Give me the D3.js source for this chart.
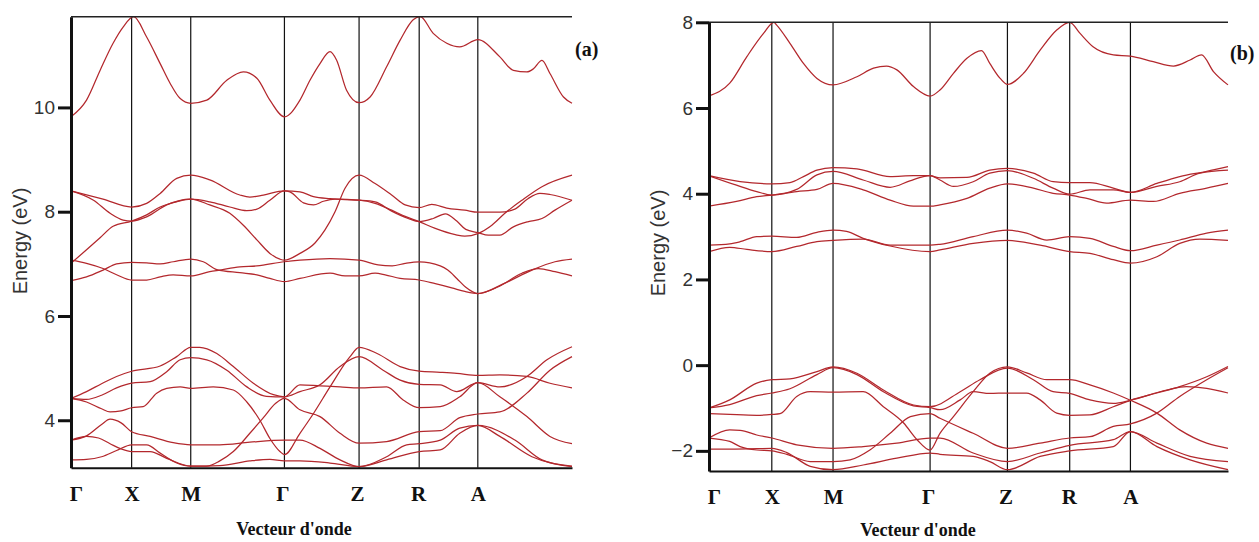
<!DOCTYPE html>
<html><head><meta charset="utf-8">
<script src="https://cdn.jsdelivr.net/npm/d3@7"></script>
<style>
body{margin:0;background:#fff;}
svg{display:block;}
</style></head><body>
<svg id="chart" width="1259" height="542"></svg>
<script>
// High-symmetry points along the k-path (normalized path length)
const kTicks = [0, 0.121, 0.239, 0.426, 0.575, 0.695, 0.812, 1];
const kLabels = ["Γ", "X", "M", "Γ", "Z", "R", "A", ""];
const xTitle = "Vecteur d'onde";
const yTitle = "Energy (eV)";

// Panel (a): bands as [k, E(eV)]
const yTicksA = [4, 6, 8, 10];
const yDomainA = [3.09, 11.74];
const bandsA = [
  [[0,9.82],[0.031,10.14],[0.058,10.71],[0.084,11.23],[0.104,11.54],[0.125,11.74],[0.151,11.35],[0.178,10.84],[0.198,10.46],[0.218,10.17],[0.239,10.08],[0.271,10.14],[0.311,10.52],[0.344,10.68],[0.371,10.56],[0.397,10.14],[0.426,9.82],[0.457,10.14],[0.477,10.52],[0.497,10.84],[0.517,11.07],[0.530,10.91],[0.550,10.33],[0.575,10.09],[0.597,10.20],[0.630,10.78],[0.657,11.29],[0.683,11.68],[0.697,11.74],[0.723,11.42],[0.750,11.23],[0.776,11.16],[0.812,11.30],[0.856,10.97],[0.883,10.71],[0.910,10.68],[0.923,10.74],[0.940,10.90],[0.956,10.65],[0.983,10.2],[1,10.08]],
  [[0,8.40],[0.064,8.24],[0.121,8.09],[0.151,8.16],[0.178,8.35],[0.211,8.64],[0.239,8.70],[0.277,8.61],[0.337,8.32],[0.357,8.28],[0.384,8.32],[0.426,8.40],[0.457,8.38],[0.484,8.29],[0.517,8.25],[0.547,8.23],[0.575,8.22],[0.607,8.19],[0.640,8.01],[0.673,7.87],[0.695,7.81],[0.723,7.87],[0.747,7.96],[0.770,7.82],[0.788,7.66],[0.812,7.60],[0.833,7.55],[0.856,7.55],[0.883,7.71],[0.913,7.81],[0.940,7.87],[0.966,8.03],[1,8.22]],
  [[0,8.40],[0.045,8.22],[0.078,7.97],[0.104,7.84],[0.121,7.82],[0.151,7.90],[0.191,8.13],[0.239,8.24],[0.277,8.19],[0.317,8.09],[0.351,8.02],[0.371,8.05],[0.397,8.22],[0.426,8.40],[0.437,8.38],[0.464,8.17],[0.484,8.13],[0.504,8.20],[0.527,8.24],[0.575,8.22],[0.607,8.16],[0.640,8.03],[0.667,7.91],[0.695,7.81],[0.727,7.68],[0.767,7.56],[0.786,7.53],[0.812,7.58],[0.840,7.74],[0.866,7.97],[0.900,8.22],[0.940,8.48],[1,8.70]],
  [[0,7.01],[0.031,7.27],[0.058,7.50],[0.084,7.72],[0.121,7.82],[0.151,7.94],[0.178,8.09],[0.211,8.19],[0.239,8.24],[0.277,8.13],[0.317,7.97],[0.344,7.74],[0.371,7.46],[0.397,7.20],[0.417,7.09],[0.426,7.07],[0.457,7.2],[0.487,7.4],[0.507,7.65],[0.527,8.0],[0.547,8.45],[0.575,8.70],[0.607,8.54],[0.640,8.32],[0.667,8.13],[0.695,8.08],[0.720,8.14],[0.750,8.07],[0.786,8.03],[0.812,7.99],[0.856,7.99],[0.886,8.05],[0.912,8.25],[0.936,8.35],[0.956,8.33],[1,8.22]],
  [[0,7.07],[0.031,7.01],[0.064,6.91],[0.091,6.79],[0.121,6.69],[0.151,6.69],[0.178,6.75],[0.204,6.79],[0.239,6.77],[0.277,6.85],[0.297,6.88],[0.337,6.94],[0.371,6.96],[0.426,7.04],[0.457,7.07],[0.517,7.10],[0.575,7.07],[0.613,6.98],[0.641,6.96],[0.667,7.01],[0.695,7.04],[0.737,6.96],[0.752,6.88],[0.770,6.72],[0.788,6.55],[0.812,6.43],[0.866,6.63],[0.920,6.88],[0.966,7.04],[1,7.09]],
  [[0,6.68],[0.031,6.75],[0.064,6.88],[0.091,7.0],[0.121,7.03],[0.151,7.02],[0.178,7.0],[0.204,7.04],[0.239,7.09],[0.264,7.04],[0.291,6.89],[0.337,6.83],[0.371,6.79],[0.397,6.72],[0.426,6.66],[0.457,6.72],[0.517,6.82],[0.547,6.77],[0.575,6.77],[0.607,6.82],[0.627,6.79],[0.657,6.72],[0.695,6.69],[0.727,6.62],[0.760,6.54],[0.786,6.47],[0.812,6.43],[0.853,6.56],[0.900,6.82],[0.933,6.91],[0.966,6.85],[1,6.77]],
  [[0,4.42],[0.031,4.55],[0.061,4.70],[0.091,4.84],[0.121,4.94],[0.178,5.04],[0.211,5.22],[0.239,5.40],[0.257,5.40],[0.291,5.28],[0.324,5.03],[0.364,4.71],[0.404,4.49],[0.426,4.45],[0.457,4.55],[0.497,4.68],[0.537,5.03],[0.575,5.22],[0.623,4.96],[0.657,4.77],[0.695,4.69],[0.737,4.68],[0.770,4.55],[0.812,4.72],[0.856,4.64],[0.910,4.84],[0.950,5.16],[1,5.41]],
  [[0,4.42],[0.031,4.40],[0.061,4.48],[0.091,4.62],[0.121,4.71],[0.158,4.74],[0.191,4.93],[0.218,5.16],[0.239,5.20],[0.271,5.16],[0.311,4.96],[0.351,4.64],[0.390,4.46],[0.426,4.45],[0.457,4.68],[0.497,4.66],[0.537,4.64],[0.575,4.62],[0.630,4.64],[0.663,4.39],[0.695,4.24],[0.737,4.26],[0.776,4.45],[0.812,4.72],[0.856,4.45],[0.910,4.07],[0.956,3.69],[1,3.55]],
  [[0,4.42],[0.031,4.35],[0.061,4.22],[0.078,4.16],[0.100,4.18],[0.121,4.24],[0.144,4.26],[0.171,4.52],[0.191,4.61],[0.218,4.64],[0.239,4.61],[0.284,4.64],[0.324,4.58],[0.351,4.35],[0.377,4.0],[0.397,3.65],[0.417,3.40],[0.426,3.34],[0.457,3.75],[0.484,4.13],[0.517,4.64],[0.557,5.22],[0.575,5.40],[0.611,5.28],[0.657,5.03],[0.695,4.94],[0.737,4.92],[0.770,4.90],[0.812,4.86],[0.856,4.87],[0.910,4.84],[0.956,4.71],[1,4.62]],
  [[0,3.62],[0.031,3.70],[0.061,3.92],[0.078,4.02],[0.100,3.95],[0.121,3.78],[0.158,3.69],[0.204,3.57],[0.239,3.53],[0.297,3.53],[0.357,3.58],[0.426,3.62],[0.457,3.62],[0.497,3.46],[0.537,3.24],[0.575,3.11],[0.630,3.24],[0.695,3.40],[0.737,3.43],[0.776,3.75],[0.812,3.90],[0.886,3.62],[0.940,3.24],[1,3.11]],
  [[0,3.62],[0.031,3.69],[0.055,3.66],[0.078,3.55],[0.100,3.45],[0.121,3.40],[0.158,3.40],[0.191,3.27],[0.239,3.12],[0.271,3.12],[0.297,3.22],[0.324,3.40],[0.357,3.75],[0.384,4.05],[0.408,4.32],[0.426,4.42],[0.457,4.20],[0.497,4.07],[0.537,3.75],[0.575,3.56],[0.630,3.59],[0.695,3.78],[0.737,3.80],[0.776,4.05],[0.812,4.12],[0.856,4.16],[0.910,4.52],[0.956,4.96],[1,5.22]],
  [[0,3.24],[0.031,3.25],[0.061,3.30],[0.091,3.42],[0.121,3.53],[0.151,3.53],[0.178,3.37],[0.211,3.18],[0.239,3.12],[0.297,3.13],[0.357,3.22],[0.397,3.25],[0.426,3.22],[0.457,3.22],[0.517,3.18],[0.575,3.11],[0.630,3.30],[0.670,3.53],[0.695,3.55],[0.737,3.62],[0.776,3.85],[0.812,3.90],[0.856,3.69],[0.920,3.30],[1,3.12]]
];

// Panel (b): bands as [k, E(eV)]
const yTicksB = [-2, 0, 2, 4, 6, 8];
const yDomainB = [-2.47, 8];
const bandsB = [
  [[0,6.28],[0.040,6.58],[0.073,7.20],[0.105,7.74],[0.125,8.0],[0.130,7.94],[0.156,7.51],[0.182,7.04],[0.208,6.69],[0.239,6.54],[0.285,6.73],[0.317,6.93],[0.342,6.98],[0.362,6.89],[0.394,6.50],[0.426,6.28],[0.445,6.42],[0.471,6.81],[0.497,7.16],[0.525,7.34],[0.541,7.04],[0.561,6.69],[0.575,6.55],[0.606,6.81],[0.638,7.35],[0.670,7.82],[0.695,8.0],[0.715,7.74],[0.740,7.43],[0.779,7.24],[0.812,7.21],[0.856,7.08],[0.895,6.98],[0.927,7.12],[0.949,7.24],[0.972,6.85],[1,6.54]],
  [[0,4.42],[0.060,4.28],[0.121,4.23],[0.156,4.26],[0.182,4.40],[0.208,4.55],[0.239,4.61],[0.285,4.58],[0.349,4.40],[0.394,4.42],[0.426,4.42],[0.445,4.37],[0.497,4.38],[0.541,4.55],[0.575,4.59],[0.625,4.48],[0.663,4.28],[0.695,4.26],[0.734,4.26],[0.779,4.13],[0.812,4.03],[0.863,4.24],[0.907,4.40],[0.959,4.52],[1,4.63]],
  [[0,4.42],[0.053,4.20],[0.092,4.05],[0.121,3.97],[0.169,4.10],[0.208,4.44],[0.239,4.52],[0.297,4.32],[0.349,4.15],[0.387,4.30],[0.413,4.40],[0.426,4.42],[0.445,4.32],[0.471,4.17],[0.509,4.28],[0.541,4.48],[0.575,4.54],[0.625,4.36],[0.663,4.13],[0.695,3.99],[0.734,4.09],[0.779,4.09],[0.812,4.03],[0.863,4.17],[0.907,4.28],[0.946,4.48],[1,4.55]],
  [[0,3.71],[0.053,3.82],[0.092,3.93],[0.121,3.97],[0.169,4.05],[0.208,4.10],[0.239,4.24],[0.297,4.09],[0.349,3.85],[0.394,3.71],[0.426,3.71],[0.445,3.74],[0.497,3.89],[0.541,4.13],[0.575,4.23],[0.625,4.13],[0.663,4.01],[0.695,3.97],[0.728,3.89],[0.766,3.78],[0.812,3.85],[0.856,3.82],[0.907,4.01],[0.959,4.13],[1,4.24]],
  [[0,2.80],[0.040,2.83],[0.060,2.88],[0.092,3.0],[0.121,3.01],[0.169,2.98],[0.208,3.10],[0.239,3.15],[0.265,3.12],[0.297,2.96],[0.349,2.78],[0.426,2.65],[0.445,2.69],[0.509,2.84],[0.575,2.91],[0.638,2.80],[0.695,2.65],[0.734,2.61],[0.779,2.46],[0.812,2.38],[0.863,2.53],[0.907,2.84],[0.946,2.94],[1,2.91]],
  [[0,2.65],[0.040,2.75],[0.073,2.70],[0.121,2.65],[0.169,2.77],[0.208,2.88],[0.239,2.91],[0.297,2.94],[0.349,2.80],[0.426,2.80],[0.445,2.82],[0.509,3.0],[0.575,3.15],[0.612,3.08],[0.651,2.92],[0.695,3.00],[0.734,2.96],[0.779,2.77],[0.812,2.67],[0.863,2.80],[0.907,2.92],[0.959,3.08],[1,3.15]],
  [[0,-1.0],[0.040,-0.81],[0.092,-0.42],[0.121,-0.34],[0.156,-0.32],[0.208,-0.15],[0.239,-0.04],[0.285,-0.19],[0.336,-0.58],[0.394,-0.93],[0.426,-0.97],[0.484,-0.62],[0.522,-0.34],[0.575,-0.07],[0.625,-0.34],[0.663,-0.62],[0.695,-0.66],[0.734,-0.81],[0.779,-0.89],[0.812,-0.82],[0.882,-0.58],[0.920,-0.50],[0.959,-0.54],[1,-0.65]],
  [[0,-1.0],[0.040,-0.92],[0.092,-0.71],[0.121,-0.65],[0.156,-0.55],[0.208,-0.22],[0.239,-0.06],[0.285,-0.22],[0.336,-0.62],[0.394,-0.95],[0.426,-0.99],[0.445,-1.04],[0.484,-0.81],[0.509,-0.62],[0.541,-0.66],[0.575,-0.65],[0.612,-0.65],[0.638,-0.81],[0.670,-1.12],[0.695,-1.17],[0.734,-1.16],[0.779,-0.97],[0.812,-0.82],[0.863,-0.65],[0.907,-0.50],[0.959,-0.27],[1,-0.03]],
  [[0,-1.13],[0.040,-1.15],[0.092,-1.17],[0.121,-1.15],[0.137,-1.13],[0.169,-0.73],[0.195,-0.62],[0.239,-0.63],[0.297,-0.62],[0.336,-0.97],[0.375,-1.35],[0.401,-1.74],[0.426,-1.98],[0.445,-1.59],[0.471,-1.20],[0.509,-0.62],[0.541,-0.19],[0.575,-0.04],[0.612,-0.18],[0.651,-0.34],[0.695,-0.34],[0.734,-0.46],[0.779,-0.65],[0.812,-0.82],[0.863,-1.12],[0.907,-1.51],[0.959,-1.82],[1,-1.94]],
  [[0,-1.70],[0.040,-1.51],[0.060,-1.52],[0.092,-1.63],[0.121,-1.70],[0.169,-1.86],[0.239,-1.94],[0.297,-1.90],[0.362,-1.82],[0.426,-1.70],[0.445,-1.70],[0.509,-2.05],[0.575,-2.25],[0.638,-2.05],[0.695,-1.87],[0.779,-1.74],[0.812,-1.55],[0.863,-1.82],[0.927,-2.13],[1,-2.25]],
  [[0,-1.70],[0.040,-1.78],[0.060,-1.90],[0.092,-1.98],[0.121,-2.0],[0.150,-2.08],[0.195,-2.25],[0.239,-2.25],[0.272,-2.21],[0.310,-1.98],[0.349,-1.59],[0.388,-1.20],[0.426,-1.13],[0.445,-1.24],[0.509,-1.59],[0.575,-1.94],[0.638,-1.82],[0.695,-1.70],[0.734,-1.67],[0.779,-1.43],[0.812,-1.37],[0.863,-1.12],[0.907,-0.73],[0.959,-0.34],[1,-0.06]],
  [[0,-1.96],[0.040,-1.96],[0.092,-1.95],[0.121,-1.94],[0.150,-2.04],[0.195,-2.36],[0.239,-2.44],[0.297,-2.33],[0.362,-2.17],[0.426,-2.05],[0.445,-2.08],[0.509,-2.13],[0.541,-2.25],[0.575,-2.44],[0.638,-2.13],[0.695,-2.0],[0.779,-1.90],[0.812,-1.55],[0.863,-1.90],[0.927,-2.21],[1,-2.44]]
];

const svg = d3.select("#chart");
const bandColor = "#b3282d";
const serif = "'Liberation Serif','Times New Roman',serif";
const sans = "'Liberation Sans',Arial,sans-serif";
const labelShift = [5, 0, 0, -2, -2, -1, 0, 0];

function drawPanel(p) {
  const x = d3.scaleLinear().domain([0, 1]).range([p.left, p.right]);
  const y = d3.scaleLinear().domain(p.yDomain).range([p.bottom, p.top]);
  const g = svg.append("g");

  svg.append("clipPath").attr("id", "clip-" + p.id)
    .append("rect").attr("x", p.left).attr("y", p.top - 1)
    .attr("width", p.right - p.left + 1).attr("height", p.bottom - p.top + 1);

  // vertical lines at the high-symmetry points
  g.selectAll("line.sym").data(kTicks.slice(1, -1)).join("line")
    .attr("class", "sym")
    .attr("x1", d => x(d)).attr("x2", d => x(d))
    .attr("y1", p.top).attr("y2", p.bottom)
    .attr("stroke", "#111").attr("stroke-width", 1.2);

  // band curves
  const line = d3.line().x(d => x(d[0])).y(d => y(d[1])).curve(d3.curveMonotoneX);
  g.append("g").attr("clip-path", `url(#clip-${p.id})`)
    .selectAll("path").data(p.bands).join("path")
    .attr("d", line).attr("fill", "none")
    .attr("stroke", bandColor).attr("stroke-width", 1.25)
    .attr("stroke-linejoin", "round");

  // top frame line
  g.append("line")
    .attr("x1", p.left).attr("x2", p.right)
    .attr("y1", p.top).attr("y2", p.top)
    .attr("stroke", "#222").attr("stroke-width", 1.5);

  // bottom axis with k-point labels
  const xAxis = d3.axisBottom(x).tickValues(kTicks)
    .tickFormat((d, i) => kLabels[i]).tickSize(0).tickPadding(18);
  const gx = g.append("g").attr("transform", `translate(0,${p.bottom})`).call(xAxis);
  gx.select(".domain").attr("stroke", "#111").attr("stroke-width", 2);
  gx.selectAll(".tick text")
    .attr("font-family", serif)
    .attr("font-weight", "bold").attr("font-size", 21).attr("fill", "#111")
    .attr("dx", (d, i) => labelShift[i]);

  // left energy axis
  const yAxis = d3.axisLeft(y).tickValues(p.yTicks).tickSize(13).tickSizeOuter(0).tickPadding(3);
  const gy = g.append("g").attr("transform", `translate(${p.left},0)`).call(yAxis);
  gy.select(".domain").attr("stroke", "#111").attr("stroke-width", 3);
  gy.selectAll(".tick line").attr("stroke", "#111").attr("stroke-width", 3);
  gy.selectAll(".tick text")
    .attr("font-family", sans)
    .attr("font-size", 19).attr("fill", "#333");

  // axis titles
  g.append("text")
    .attr("transform", `translate(${p.yTitleX},${p.yTitleY}) rotate(-90)`)
    .attr("text-anchor", "middle")
    .attr("font-family", sans)
    .attr("font-size", 20).attr("fill", "#333")
    .text(yTitle);
  g.append("text")
    .attr("x", p.xTitleX).attr("y", p.xTitleY)
    .attr("text-anchor", "middle")
    .attr("font-family", serif)
    .attr("font-weight", "bold").attr("font-size", 18).attr("fill", "#111")
    .text(xTitle);

  // panel tag
  g.append("text")
    .attr("x", p.tagX).attr("y", p.tagY)
    .attr("font-family", serif)
    .attr("font-weight", "bold").attr("font-size", 20).attr("fill", "#111")
    .text(p.tag);
}

drawPanel({id: "a", left: 71, right: 572, top: 16.7, bottom: 467.7,
  yDomain: yDomainA, yTicks: yTicksA, bands: bandsA,
  yTitleX: 27, yTitleY: 241, xTitleX: 294, xTitleY: 535, tag: "(a)", tagX: 575, tagY: 56});
drawPanel({id: "b", left: 709, right: 1228, top: 22.3, bottom: 471,
  yDomain: yDomainB, yTicks: yTicksB, bands: bandsB,
  yTitleX: 665, yTitleY: 243, xTitleX: 918, xTitleY: 536, tag: "(b)", tagX: 1230, tagY: 60});
</script>
</body></html>
